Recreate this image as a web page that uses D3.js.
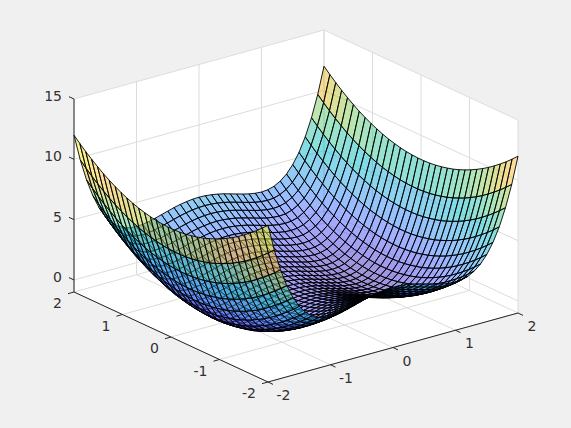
<!DOCTYPE html>
<html><head><meta charset="utf-8">
<script src="https://cdn.jsdelivr.net/npm/d3@7/dist/d3.min.js"></script>
<style>html,body{margin:0;padding:0;background:#f0f0f0}svg{display:block}text{font-family:"DejaVu Sans",sans-serif;font-size:14px;fill:#303030}</style>
</head><body><script>
// Surface sample positions along each horizontal axis
const xSamples = [-2,-1.9,-1.8,-1.7,-1.6,-1.5,-1.4,-1.3,-1.2,-1.1,-1,-0.9,-0.8,-0.7,-0.6,-0.5,-0.4,-0.3,-0.2,-0.1,0,0.1,0.2,0.3,0.4,0.5,0.6,0.7,0.8,0.9,1,1.1,1.2,1.3,1.4,1.5,1.6,1.7,1.8,1.9,2];
const ySamples = [-2,-1.879,-1.758,-1.636,-1.515,-1.394,-1.273,-1.152,-1.03,-0.909,-0.788,-0.667,-0.545,-0.424,-0.303,-0.182,-0.061,0.061,0.182,0.303,0.424,0.545,0.667,0.788,0.909,1.03,1.152,1.273,1.394,1.515,1.636,1.758,1.879,2];
// Height profile across x (double well) and across y (bowl)
const heightByX = [8,5.81,4.02,2.57,1.43,0.56,-0.08,-0.52,-0.81,-0.96,-1,-0.96,-0.87,-0.74,-0.59,-0.44,-0.29,-0.17,-0.08,-0.02,0,-0.02,-0.08,-0.17,-0.29,-0.44,-0.59,-0.74,-0.87,-0.96,-1,-0.96,-0.81,-0.52,-0.08,0.56,1.43,2.57,4.02,5.81,8];
const heightByY = [4,3.53,3.09,2.68,2.3,1.94,1.62,1.33,1.06,0.83,0.62,0.44,0.3,0.18,0.09,0.03,0,0,0.03,0.09,0.18,0.3,0.44,0.62,0.83,1.06,1.33,1.62,1.94,2.3,2.68,3.09,3.53,4];
const xTicks = [-2,-1,0,1,2];
const yTicks = [-2,-1,0,1,2];
const zTicks = [0,5,10,15];
const colorStops = [[.2422,.1504,.6603],[.2647,.1978,.7952],[.2783,.2559,.8991],[.2810,.3228,.9579],[.2699,.3892,.9906],[.2206,.4603,.9973],[.1786,.5289,.9682],[.1540,.5902,.9218],[.1248,.6459,.8883],[.0689,.6948,.8394],[.0067,.7312,.7660],[.1408,.7584,.6842],[.2161,.7843,.5923],[.3406,.8008,.4789],[.5044,.7993,.3480],[.6720,.7793,.2227],[.8203,.7498,.1535],[.9393,.7288,.2100],[.9970,.7659,.2199],[.9786,.8386,.1766],[.9597,.9135,.1423],[.9769,.9839,.0805]];
const colorMin = -1, colorMax = 12;

const W = 571, H = 428;
const svg = d3.select("body").append("svg").attr("width", W).attr("height", H);
svg.append("rect").attr("width", W).attr("height", H).attr("fill", "#f0f0f0");

const xS = d3.scaleLinear().domain([-2,2]).range([0,1]);
const yS = d3.scaleLinear().domain([-2,2]).range([0,1]);
const zS = d3.scaleLinear().domain([-1,15]).range([0,1]);
const color = d3.scaleLinear()
  .domain(colorStops.map((_,i) => colorMin + (colorMax-colorMin)*i/(colorStops.length-1)))
  .range(colorStops.map(c => d3.rgb(c[0]*255,c[1]*255,c[2]*255)));

// screen projection of the box
const proj = (x,y,z) => [268 + 250*xS(x) - 194*yS(y), 382 - 69*xS(x) - 90*yS(y) - 193*zS(z)];
const depth = (x,y,z) => (xS(x)*192 + yS(y)*250)*0.934 - zS(z)*207*0.358;
const line = d3.line();
const zAt = (i,j) => heightByX[i] + heightByY[j];

// pane
svg.append("path").attr("fill","#fff")
  .attr("d", line([proj(-2,2,-1),proj(-2,-2,-1),proj(2,-2,-1),proj(2,-2,15),proj(2,2,15),proj(-2,2,15)])+"Z");

const grid = svg.append("g").attr("fill","none").attr("stroke","#dcdcdc").attr("stroke-width",1);
const seg = (g,a,b) => g.append("path").attr("d", line([a,b]));
xTicks.forEach(t => {
  seg(grid, proj(t,-2,-1), proj(t,2,-1));
  seg(grid, proj(t,2,-1), proj(t,2,15));
});
yTicks.forEach(t => {
  seg(grid, proj(-2,t,-1), proj(2,t,-1));
  seg(grid, proj(2,t,-1), proj(2,t,15));
});
zTicks.forEach(t => {
  seg(grid, proj(-2,2,t), proj(2,2,t));
  seg(grid, proj(2,2,t), proj(2,-2,t));
});

// surface cells, far to near
const cells = [];
for (let i=0;i<xSamples.length-1;i++) for (let j=0;j<ySamples.length-1;j++) {
  const c = [[i,j],[i+1,j],[i+1,j+1],[i,j+1]].map(([a,b]) => [xSamples[a],ySamples[b],zAt(a,b)]);
  cells.push({c, d: d3.mean(c, p => depth(p[0],p[1],p[2])), v: zAt(i,j)});
}
cells.sort((a,b) => b.d - a.d);
svg.append("g").selectAll("path").data(cells).join("path")
  .attr("d", d => line(d.c.map(p => proj(p[0],p[1],p[2])))+"Z")
  .attr("fill", d => color(d.v)).attr("fill-opacity",0.5)
  .attr("stroke","#000").attr("stroke-width",0.9).attr("stroke-linejoin","round");

// axes
const ax = svg.append("g").attr("fill","none").attr("stroke","#262626").attr("stroke-width",1);
seg(ax, proj(-2,2,-1), proj(-2,2,15));
seg(ax, proj(-2,2,-1), proj(-2,-2,-1));
seg(ax, proj(-2,-2,-1), proj(2,-2,-1));
const add = (p,dx,dy) => [p[0]+dx,p[1]+dy];
xTicks.forEach(t => { const p = proj(t,-2,-1); seg(ax,p,add(p,5,2.4)); });
yTicks.forEach(t => { const p = proj(-2,t,-1); seg(ax,p,add(p,-6,1.7)); });
zTicks.forEach(t => { const p = proj(-2,2,t); seg(ax,p,add(p,-5,-2.3)); });

const lab = (t,p,anchor) => svg.append("text").attr("x",p[0]).attr("y",p[1]).attr("text-anchor",anchor).attr("dominant-baseline","central").text(t);
xTicks.forEach(t => { const p = proj(t,-2,-1); lab(String(t), add(p,t<0?15.5:14,13), "middle"); });
yTicks.forEach(t => { const p = proj(-2,t,-1); lab(String(t), add(p,-12,11), "end"); });
zTicks.forEach(t => { const p = proj(-2,2,t); lab(String(t), add(p,-12,-3), "end"); });
</script></body></html>
